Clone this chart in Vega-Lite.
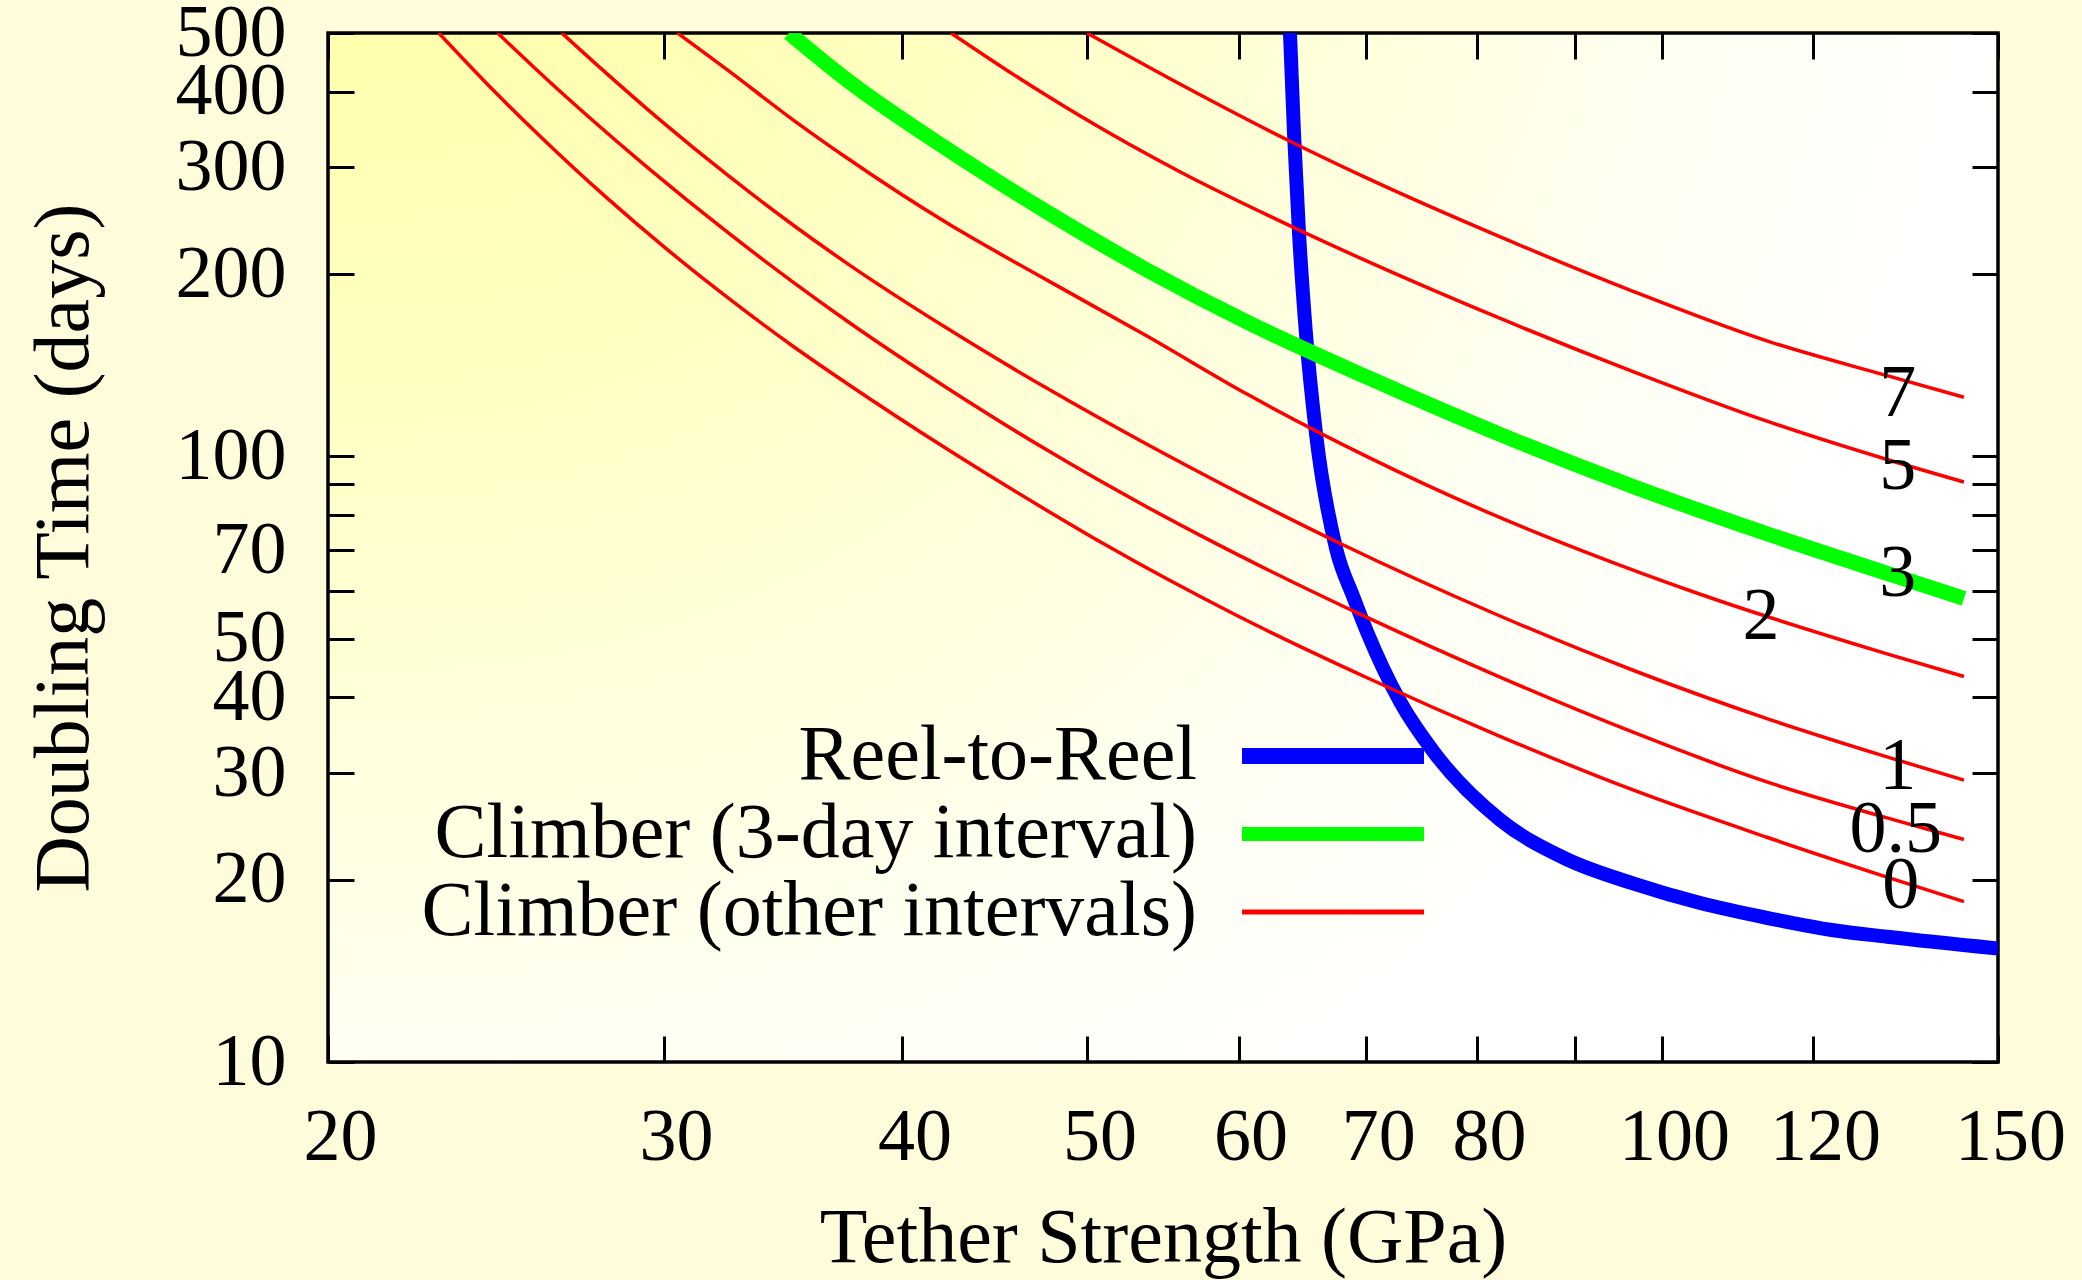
{
  "$schema": "https://vega.github.io/schema/vega-lite/v6.json",
  "width": 1670,
  "height": 1029,
  "autosize": {"type": "none"},
  "padding": {"left": 328, "top": 33, "right": 84, "bottom": 218},
  "background": "#fffcdc",
  "view": {
    "stroke": "#000000",
    "strokeWidth": 3.5,
    "fill": {
      "gradient": "radial",
      "x1": 0.03, "y1": 0.0, "r1": 0,
      "x2": 0.03, "y2": 0.0, "r2": 1,
      "stops": [
        {"offset": 0, "color": "#ffff99"},
        {"offset": 0.45, "color": "#ffffc8"},
        {"offset": 0.8, "color": "#fffff2"},
        {"offset": 1, "color": "#ffffff"}
      ]
    }
  },
  "config": {"font": "Liberation Serif"},
  "datasets": {
    "curves": [
      {"series": "Reel-to-Reel", "k": "R", "x": 63.84, "y": 500},
      {"series": "Reel-to-Reel", "k": "R", "x": 64.15, "y": 341.9},
      {"series": "Reel-to-Reel", "k": "R", "x": 64.54, "y": 233.8},
      {"series": "Reel-to-Reel", "k": "R", "x": 65.08, "y": 159.8},
      {"series": "Reel-to-Reel", "k": "R", "x": 65.87, "y": 109.3},
      {"series": "Reel-to-Reel", "k": "R", "x": 67.48, "y": 70.6},
      {"series": "Reel-to-Reel", "k": "R", "x": 68.94, "y": 58.4},
      {"series": "Reel-to-Reel", "k": "R", "x": 70.06, "y": 51.3},
      {"series": "Reel-to-Reel", "k": "R", "x": 72.93, "y": 39.3},
      {"series": "Reel-to-Reel", "k": "R", "x": 75.93, "y": 32.5},
      {"series": "Reel-to-Reel", "k": "R", "x": 82.28, "y": 25.1},
      {"series": "Reel-to-Reel", "k": "R", "x": 89.18, "y": 21.6},
      {"series": "Reel-to-Reel", "k": "R", "x": 96.65, "y": 19.7},
      {"series": "Reel-to-Reel", "k": "R", "x": 104.73, "y": 18.3},
      {"series": "Reel-to-Reel", "k": "R", "x": 113.5, "y": 17.3},
      {"series": "Reel-to-Reel", "k": "R", "x": 123.0, "y": 16.5},
      {"series": "Reel-to-Reel", "k": "R", "x": 131.2, "y": 16.1},
      {"series": "Reel-to-Reel", "k": "R", "x": 150, "y": 15.4},

      {"series": "Climber (3-day interval)", "k": "3", "x": 34.88, "y": 500},
      {"series": "Climber (3-day interval)", "k": "3", "x": 37.41, "y": 418.2},
      {"series": "Climber (3-day interval)", "k": "3", "x": 42.21, "y": 321.7},
      {"series": "Climber (3-day interval)", "k": "3", "x": 47.62, "y": 253.2},
      {"series": "Climber (3-day interval)", "k": "3", "x": 53.72, "y": 203.1},
      {"series": "Climber (3-day interval)", "k": "3", "x": 60.61, "y": 166.6},
      {"series": "Climber (3-day interval)", "k": "3", "x": 70.06, "y": 135.1},
      {"series": "Climber (3-day interval)", "k": "3", "x": 82.25, "y": 108.7},
      {"series": "Climber (3-day interval)", "k": "3", "x": 96.65, "y": 89.1},
      {"series": "Climber (3-day interval)", "k": "3", "x": 113.5, "y": 74.5},
      {"series": "Climber (3-day interval)", "k": "3", "x": 131.2, "y": 64.1},
      {"series": "Climber (3-day interval)", "k": "3", "x": 143.96, "y": 58.3},

      {"series": "Climber (other intervals)", "k": "0", "x": 22.86, "y": 500},
      {"series": "Climber (other intervals)", "k": "0", "x": 24.43, "y": 401.4},
      {"series": "Climber (other intervals)", "k": "0", "x": 25.84, "y": 337.4},
      {"series": "Climber (other intervals)", "k": "0", "x": 28.0, "y": 267.1},
      {"series": "Climber (other intervals)", "k": "0", "x": 29.99, "y": 221.9},
      {"series": "Climber (other intervals)", "k": "0", "x": 32.37, "y": 183.1},
      {"series": "Climber (other intervals)", "k": "0", "x": 35.08, "y": 151.7},
      {"series": "Climber (other intervals)", "k": "0", "x": 37.41, "y": 131.9},
      {"series": "Climber (other intervals)", "k": "0", "x": 42.21, "y": 102.8},
      {"series": "Climber (other intervals)", "k": "0", "x": 47.62, "y": 81.4},
      {"series": "Climber (other intervals)", "k": "0", "x": 50.99, "y": 71.7},
      {"series": "Climber (other intervals)", "k": "0", "x": 59.74, "y": 54.8},
      {"series": "Climber (other intervals)", "k": "0", "x": 70.06, "y": 43.1},
      {"series": "Climber (other intervals)", "k": "0", "x": 82.25, "y": 34.5},
      {"series": "Climber (other intervals)", "k": "0", "x": 96.65, "y": 28.1},
      {"series": "Climber (other intervals)", "k": "0", "x": 113.5, "y": 23.5},
      {"series": "Climber (other intervals)", "k": "0", "x": 131.2, "y": 20.2},
      {"series": "Climber (other intervals)", "k": "0", "x": 143.96, "y": 18.4},

      {"series": "Climber (other intervals)", "k": "0.5", "x": 24.54, "y": 500},
      {"series": "Climber (other intervals)", "k": "0.5", "x": 26.05, "y": 419.0},
      {"series": "Climber (other intervals)", "k": "0.5", "x": 27.34, "y": 365.4},
      {"series": "Climber (other intervals)", "k": "0.5", "x": 29.39, "y": 300.3},
      {"series": "Climber (other intervals)", "k": "0.5", "x": 32.37, "y": 234.7},
      {"series": "Climber (other intervals)", "k": "0.5", "x": 35.08, "y": 193.6},
      {"series": "Climber (other intervals)", "k": "0.5", "x": 37.41, "y": 167.3},
      {"series": "Climber (other intervals)", "k": "0.5", "x": 42.21, "y": 129.7},
      {"series": "Climber (other intervals)", "k": "0.5", "x": 47.62, "y": 102.4},
      {"series": "Climber (other intervals)", "k": "0.5", "x": 53.72, "y": 82.5},
      {"series": "Climber (other intervals)", "k": "0.5", "x": 58.23, "y": 72.1},
      {"series": "Climber (other intervals)", "k": "0.5", "x": 70.06, "y": 54.2},
      {"series": "Climber (other intervals)", "k": "0.5", "x": 82.25, "y": 43.2},
      {"series": "Climber (other intervals)", "k": "0.5", "x": 96.65, "y": 35.0},
      {"series": "Climber (other intervals)", "k": "0.5", "x": 113.5, "y": 29.0},
      {"series": "Climber (other intervals)", "k": "0.5", "x": 131.2, "y": 25.3},
      {"series": "Climber (other intervals)", "k": "0.5", "x": 143.96, "y": 23.3},

      {"series": "Climber (other intervals)", "k": "1", "x": 26.52, "y": 500},
      {"series": "Climber (other intervals)", "k": "1", "x": 27.78, "y": 437.9},
      {"series": "Climber (other intervals)", "k": "1", "x": 29.86, "y": 359.0},
      {"series": "Climber (other intervals)", "k": "1", "x": 32.37, "y": 291.7},
      {"series": "Climber (other intervals)", "k": "1", "x": 35.08, "y": 240.5},
      {"series": "Climber (other intervals)", "k": "1", "x": 37.41, "y": 208.3},
      {"series": "Climber (other intervals)", "k": "1", "x": 42.21, "y": 162.7},
      {"series": "Climber (other intervals)", "k": "1", "x": 47.62, "y": 129.5},
      {"series": "Climber (other intervals)", "k": "1", "x": 53.72, "y": 104.7},
      {"series": "Climber (other intervals)", "k": "1", "x": 58.93, "y": 89.7},
      {"series": "Climber (other intervals)", "k": "1", "x": 67.83, "y": 71.8},
      {"series": "Climber (other intervals)", "k": "1", "x": 82.25, "y": 54.5},
      {"series": "Climber (other intervals)", "k": "1", "x": 96.65, "y": 44.3},
      {"series": "Climber (other intervals)", "k": "1", "x": 113.5, "y": 36.9},
      {"series": "Climber (other intervals)", "k": "1", "x": 131.2, "y": 31.9},
      {"series": "Climber (other intervals)", "k": "1", "x": 143.96, "y": 29.2},

      {"series": "Climber (other intervals)", "k": "2", "x": 30.49, "y": 500},
      {"series": "Climber (other intervals)", "k": "2", "x": 32.37, "y": 435.0},
      {"series": "Climber (other intervals)", "k": "2", "x": 35.08, "y": 358.7},
      {"series": "Climber (other intervals)", "k": "2", "x": 37.41, "y": 310.8},
      {"series": "Climber (other intervals)", "k": "2", "x": 42.21, "y": 242.7},
      {"series": "Climber (other intervals)", "k": "2", "x": 47.62, "y": 195.4},
      {"series": "Climber (other intervals)", "k": "2", "x": 53.72, "y": 158.0},
      {"series": "Climber (other intervals)", "k": "2", "x": 60.61, "y": 126.7},
      {"series": "Climber (other intervals)", "k": "2", "x": 70.06, "y": 99.9},
      {"series": "Climber (other intervals)", "k": "2", "x": 82.28, "y": 79.2},
      {"series": "Climber (other intervals)", "k": "2", "x": 90.99, "y": 69.7},
      {"series": "Climber (other intervals)", "k": "2", "x": 104.73, "y": 59.2},
      {"series": "Climber (other intervals)", "k": "2", "x": 131.2, "y": 47.2},
      {"series": "Climber (other intervals)", "k": "2", "x": 143.96, "y": 43.3},

      {"series": "Climber (other intervals)", "k": "5", "x": 42.41, "y": 500},
      {"series": "Climber (other intervals)", "k": "5", "x": 45.74, "y": 426.8},
      {"series": "Climber (other intervals)", "k": "5", "x": 49.57, "y": 364.7},
      {"series": "Climber (other intervals)", "k": "5", "x": 55.93, "y": 294.8},
      {"series": "Climber (other intervals)", "k": "5", "x": 63.86, "y": 240.2},
      {"series": "Climber (other intervals)", "k": "5", "x": 70.06, "y": 210.0},
      {"series": "Climber (other intervals)", "k": "5", "x": 82.28, "y": 168.9},
      {"series": "Climber (other intervals)", "k": "5", "x": 96.65, "y": 137.9},
      {"series": "Climber (other intervals)", "k": "5", "x": 113.5, "y": 114.3},
      {"series": "Climber (other intervals)", "k": "5", "x": 131.2, "y": 98.8},
      {"series": "Climber (other intervals)", "k": "5", "x": 143.96, "y": 90.7},

      {"series": "Climber (other intervals)", "k": "7", "x": 49.97, "y": 500},
      {"series": "Climber (other intervals)", "k": "7", "x": 55.93, "y": 411.4},
      {"series": "Climber (other intervals)", "k": "7", "x": 63.61, "y": 333.2},
      {"series": "Climber (other intervals)", "k": "7", "x": 70.06, "y": 287.9},
      {"series": "Climber (other intervals)", "k": "7", "x": 82.28, "y": 230.3},
      {"series": "Climber (other intervals)", "k": "7", "x": 96.65, "y": 187.1},
      {"series": "Climber (other intervals)", "k": "7", "x": 113.5, "y": 155.1},
      {"series": "Climber (other intervals)", "k": "7", "x": 131.2, "y": 135.9},
      {"series": "Climber (other intervals)", "k": "7", "x": 143.96, "y": 125.2}
    ],
    "labels": [
      {"label": "7", "x": 132.9, "y": 126.8},
      {"label": "5", "x": 132.9, "y": 96},
      {"label": "3", "x": 132.9, "y": 63.9},
      {"label": "2", "x": 112.7, "y": 54.3},
      {"label": "1", "x": 132.9, "y": 30.7},
      {"label": "0.5", "x": 132.6, "y": 24.2},
      {"label": "0", "x": 133.4, "y": 19.5}
    ]
  },
  "layer": [
    {
      "data": {"name": "curves"},
      "mark": {"type": "line", "interpolate": "monotone", "clip": true, "strokeCap": "butt"},
      "encoding": {
        "x": {
          "field": "x", "type": "quantitative",
          "scale": {"type": "log", "domain": [20, 150], "nice": false},
          "axis": {
            "orient": "bottom",
            "values": [20, 30, 40, 50, 60, 70, 80, 90, 100, 120, 150],
            "format": "d",
            "labelExpr": "datum.value == 90 ? '' : datum.label",
            "title": "Tether Strength (GPa)",
            "tickSize": -26, "tickWidth": 3, "tickColor": "#000000",
            "domain": false, "grid": false,
            "labelFont": "Liberation Serif", "labelFontSize": 74, "labelColor": "#000000",
            "labelPadding": 65, "labelOffset": 12, "labelFlush": false, "labelOverlap": false,
            "titleFont": "Liberation Serif", "titleFontSize": 78, "titleFontWeight": "normal",
            "titleColor": "#000000", "titleBaseline": "alphabetic", "titleY": 199
          }
        },
        "y": {
          "field": "y", "type": "quantitative",
          "scale": {"type": "log", "domain": [10, 500], "nice": false},
          "axis": {
            "orient": "left",
            "values": [10, 20, 30, 40, 50, 60, 70, 80, 90, 100, 200, 300, 400, 500],
            "format": "d",
            "labelExpr": "(datum.value == 60 || datum.value == 80 || datum.value == 90) ? '' : datum.label",
            "title": "Doubling Time (days)",
            "tickSize": -26, "tickWidth": 3, "tickColor": "#000000",
            "domain": false, "grid": false,
            "labelFont": "Liberation Serif", "labelFontSize": 74, "labelColor": "#000000",
            "labelPadding": 68, "labelOverlap": false, "labelFlush": false,
            "titleFont": "Liberation Serif", "titleFontSize": 78, "titleFontWeight": "normal",
            "titleColor": "#000000", "titleAngle": -90, "titleBaseline": "alphabetic",
            "titleAlign": "center", "titleX": -241, "titleY": 514.5
          }
        },
        "color": {
          "field": "series", "type": "nominal",
          "scale": {
            "domain": ["Reel-to-Reel", "Climber (3-day interval)", "Climber (other intervals)"],
            "range": ["#0000ff", "#00ff00", "#ff0000"]
          },
          "legend": {
            "title": null,
            "orient": "none",
            "legendX": 906,
            "legendY": 693,
            "padding": 0,
            "labelFont": "Liberation Serif",
            "labelFontSize": 78,
            "labelColor": "#000000",
            "labelAlign": "right",
            "labelOffset": -235,
            "labelLimit": 2000,
            "symbolType": "stroke",
            "symbolSize": 33124,
            "symbolStrokeWidth": 14,
            "rowPadding": 0,
            "encode": {
              "symbols": {
                "update": {
                  "y": {"value": 30},
                  "strokeWidth": {"signal": "(datum.value === 'Climber (other intervals)' ? 5 : (datum.value === 'Climber (3-day interval)' ? 14 : 16))"}
                }
              },
              "labels": {
                "update": {
                  "y": {"value": 30}
                }
              }
            }
          }
        },
        "strokeWidth": {
          "condition": [
            {"test": "datum.series === 'Climber (other intervals)'", "value": 3.5},
            {"test": "datum.series === 'Climber (3-day interval)'", "value": 15}
          ],
          "value": 14
        },
        "detail": {"field": "k"}
      }
    },
    {
      "data": {"name": "labels"},
      "mark": {"type": "text", "font": "Liberation Serif", "fontSize": 74, "color": "#000000", "align": "center", "baseline": "middle"},
      "encoding": {
        "x": {
          "field": "x", "type": "quantitative",
          "axis": {
            "orient": "top",
            "values": [20, 30, 40, 50, 60, 70, 80, 90, 100, 120, 150],
            "labels": false, "title": null,
            "tickSize": -26, "tickWidth": 3, "tickColor": "#000000",
            "domain": false, "grid": false
          }
        },
        "y": {
          "field": "y", "type": "quantitative",
          "axis": {
            "orient": "right",
            "values": [10, 20, 30, 40, 50, 60, 70, 80, 90, 100, 200, 300, 400, 500],
            "labels": false, "title": null,
            "tickSize": -26, "tickWidth": 3, "tickColor": "#000000",
            "domain": false, "grid": false
          }
        },
        "text": {"field": "label"}
      }
    }
  ],
  "resolve": {"axis": {"x": "independent", "y": "independent"}}
}
